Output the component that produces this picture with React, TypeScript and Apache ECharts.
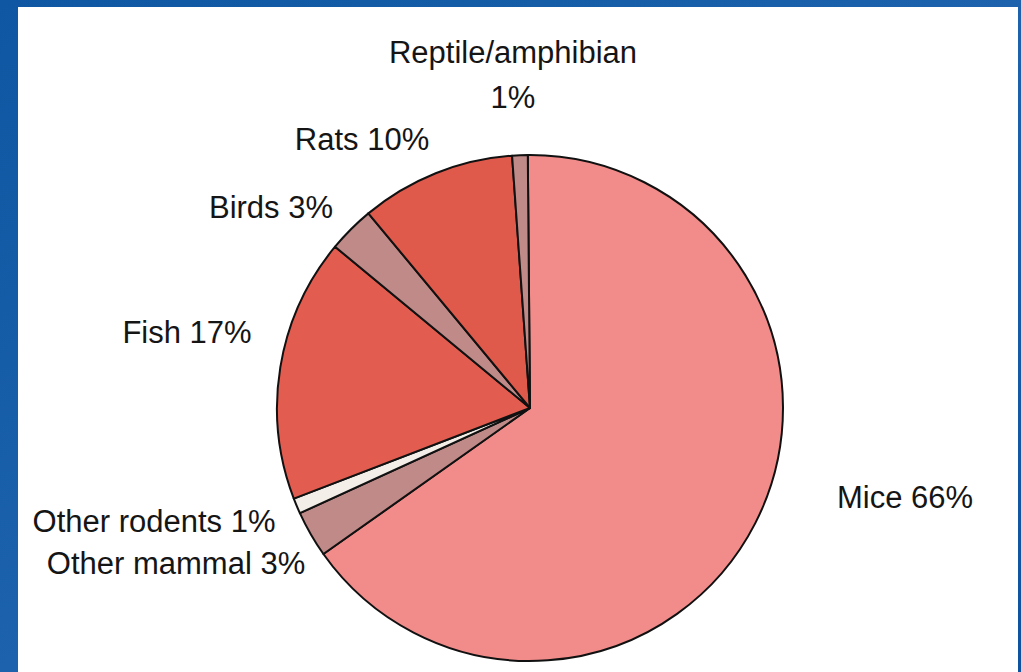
import React, { useEffect, useRef } from "react";
import * as echarts from "echarts";

const categories = [
  "Mice",
  "Other mammal",
  "Other rodents",
  "Fish",
  "Birds",
  "Rats",
  "Reptile/amphibian",
];
// shares (%) as printed on the chart
const shares = [66, 3, 1, 17, 3, 10, 1];
const sliceColors = ["#f28c8a", "#c08a88", "#f3eee8", "#e25c50", "#c08a88", "#e05a4c", "#c08a88"];
// label centres (px)
const labelPos: [number, number][] = [
  [905, 497],
  [176, 563],
  [154, 521],
  [187, 332],
  [271, 207],
  [362, 139],
  [513, 75],
];

export default function App() {
  const ref = useRef<HTMLDivElement>(null);
  useEffect(() => {
    if (!ref.current) return;
    const chart = echarts.init(ref.current, undefined, { renderer: "svg" });
    chart.setOption({
      animation: false,
      backgroundColor: new echarts.graphic.LinearGradient(0, 0, 1, 1, [
        { offset: 0, color: "#0f57a2" },
        { offset: 0.5, color: "#1c62ad" },
        { offset: 1, color: "#0d52a0" },
      ]),
      graphic: [
        {
          type: "rect",
          z: -10,
          silent: true,
          shape: { x: 18, y: 7, width: 1000, height: 680 },
          style: { fill: "#ffffff" },
        },
      ],
      series: [
        {
          type: "pie",
          center: [530, 408],
          radius: 253,
          startAngle: 90.5,
          clockwise: true,
          avoidLabelOverlap: false,
          itemStyle: { borderColor: "#111111", borderWidth: 2 },
          label: {
            show: true,
            position: "outside",
            fontFamily: "Liberation Sans, Arial, sans-serif",
            fontSize: 31,
            color: "#151515",
            lineHeight: 45,
            formatter: (p: any) =>
              p.name === "Reptile/amphibian" ? `${p.name}\n${p.value}%` : `${p.name} ${p.value}%`,
          },
          labelLine: { show: false },
          labelLayout: (params: any) => {
            const pos = labelPos[params.dataIndex];
            return { x: pos[0], y: pos[1], align: "center", verticalAlign: "middle" };
          },
          emphasis: { disabled: true },
          data: categories.map((name, i) => ({
            name,
            value: shares[i],
            itemStyle: { color: sliceColors[i] },
          })),
        },
      ],
    });
    return () => chart.dispose();
  }, []);
  return (
    <div
      ref={ref}
      style={{ position: "absolute", left: 0, top: 0, width: 1021, height: 672 }}
    />
  );
}
